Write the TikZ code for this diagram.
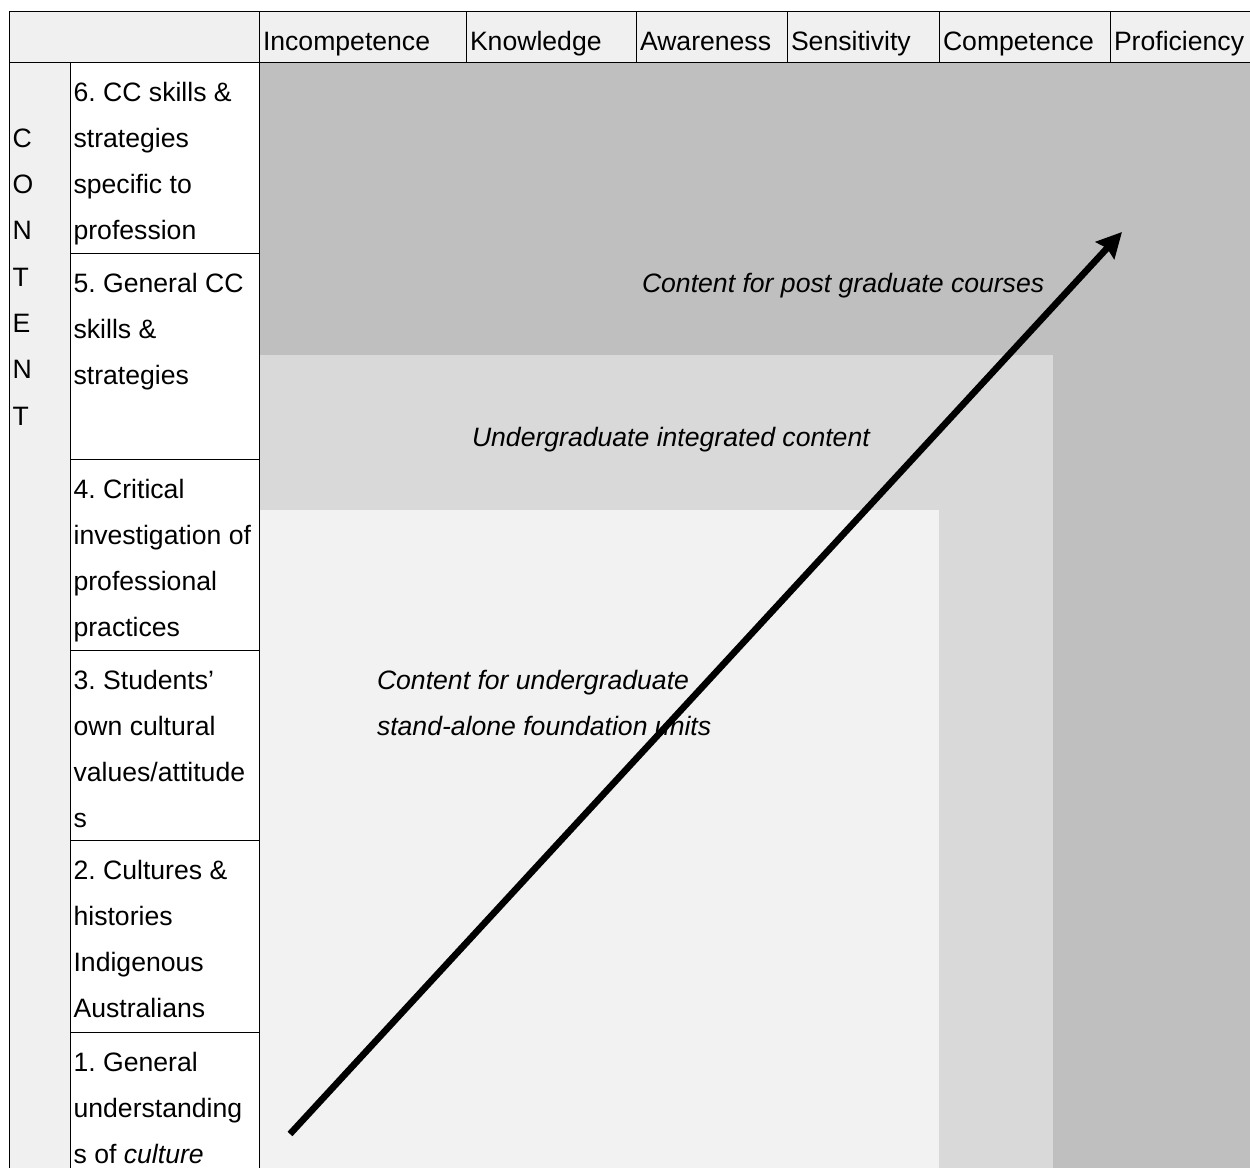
\documentclass[tikz,border=0pt]{standalone}
\usepackage{fontspec}
\setmainfont{Liberation Sans}
\usetikzlibrary{positioning,arrows.meta}
\definecolor{headgray}{HTML}{F0F0F0}
\definecolor{postgray}{HTML}{BFBFBF}
\definecolor{integgray}{HTML}{D9D9D9}
\definecolor{foundgray}{HTML}{F2F2F2}
\frenchspacing
\newcommand{\celltext}[3]{\parbox[t][#2][t]{#1}{\leftskip=1.8pt\relax\rule{0pt}{19.5pt}#3}}

\begin{document}
\begin{tikzpicture}[x=0.5pt, y=-0.5pt,
	every node/.style={inner sep=0pt, outer sep=0pt, font=\fontsize{13.3}{23.15}\selectfont},
	head/.style={draw, fill=headgray, minimum height=25.5pt, text height=15.5pt, text depth=2pt, inner xsep=2pt, align=left},
	item/.style={draw, fill=white, anchor=north west},
	zone/.style={font=\fontsize{13.3}{23.15}\selectfont\itshape, align=left}]
	\useasboundingbox (0,0) rectangle (1250,1168);
	\clip (0,0) rectangle (1250,1168);

	\fill[postgray]		(259,62)	rectangle (1250,1168);
	\fill[integgray]	(259,355)	rectangle (1053,1168);
	\fill[foundgray]	(259,510)	rectangle (939,1168);

	\node[head, minimum width=125pt, anchor=north west]	(corner)		at (9,11)	{};
	\node[head, text width=99.5pt, right=0pt of corner]		(incomp)	{Incompetence};
	\node[head, text width=81pt, right=0pt of incomp]		(know)		{Knowledge};
	\node[head, text width=71.5pt, right=0pt of know]		(aware)		{Awareness};
	\node[head, text width=72pt, right=0pt of aware]		(sensi)		{Sensitivity};
	\node[head, text width=81.5pt, right=0pt of sensi]		(compet)	{Competence};
	\node[head, text width=68pt, right=0pt of compet]		(profi)		{Proficiency};

	\node[item, fill=headgray]	(content)	at (9,62)	{\celltext{30.5pt}{560pt}{\\C\\O\\N\\T\\E\\N\\T}};
	\node[item]					(sixth)		at (70,62)	{\celltext{94.5pt}{95.5pt}{6. CC skills \&\\strategies\\specific to\\profession}};
	\node[item, below=0pt of sixth]		(fifth)		{\celltext{94.5pt}{103pt}{5. General CC\\skills \&\\strategies}};
	\node[item, below=0pt of fifth]		(fourth)	{\celltext{94.5pt}{95.5pt}{4. Critical\\investigation of\\professional\\practices}};
	\node[item, below=0pt of fourth]	(third)		{\celltext{94.5pt}{95pt}{3. Students’\\own cultural\\values/attitude\\s}};
	\node[item, below=0pt of third]		(second)	{\celltext{94.5pt}{96pt}{2. Cultures \&\\histories\\Indigenous\\Australians}};
	\node[item, below=0pt of second]	(first)		{\celltext{94.5pt}{150pt}{1. General\\understanding\\s of \textit{culture}}};

	\node[zone, anchor=base west]	(postlabel)		at (642,292.5)	{Content for post graduate courses};
	\node[zone, anchor=base west]	(integlabel)	at (472,446.5)	{Undergraduate integrated content};
	\node[zone, anchor=north west]	(foundlabel)	at (377,670)	{Content for undergraduate\\stand-alone foundation units};

	\coordinate (low)	at (290,1134);
	\coordinate (high)	at (1122,232);
	\draw[line width=3.3pt, -{Stealth[length=12.5pt, width=12.5pt, inset=1.5pt]}] (low) -- (high);
\end{tikzpicture}
\end{document}
